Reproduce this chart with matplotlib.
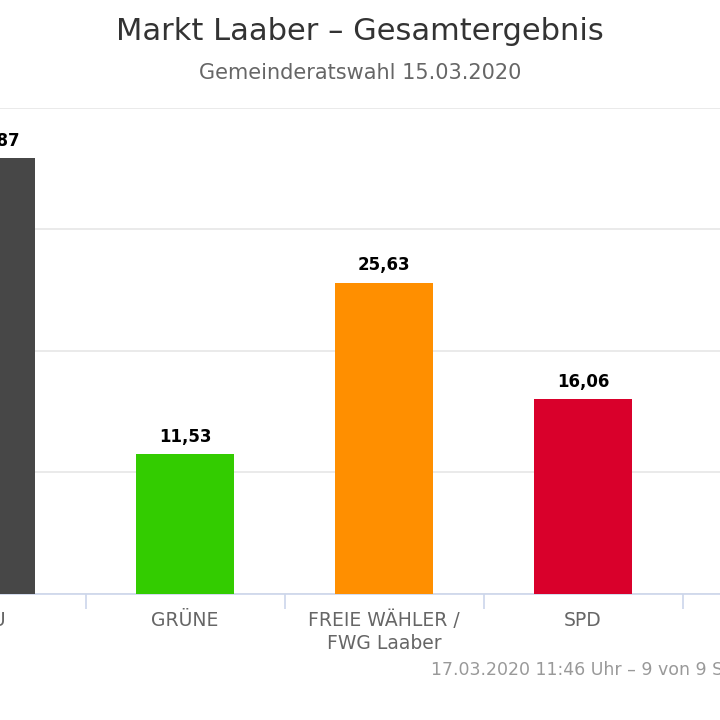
# Gemeinderatswahl Laaber - Balkendiagramm

import numpy as np
import matplotlib.pyplot as plt

# Daten
parteien = ['CSU', 'GRÜNE', 'FREIE WÄHLER /\nFWG Laaber', 'SPD']
prozent = [35.87, 11.53, 25.63, 16.06]
farben = ['#474747', '#33cc00', '#ff8f00', '#d9002b']
yticks = [0, 10, 20, 30, 40]

titel = 'Markt Laaber – Gesamtergebnis'
untertitel = 'Gemeinderatswahl 15.03.2020'
stand = '17.03.2020 11:46 Uhr – 9 von 9 Stimmbezirken'

plt.rcParams['font.family'] = ['DejaVu Sans']

fig = plt.figure(figsize=(7.2, 7.2), dpi=100)
ax = fig.add_axes([0, 0.175, 1, 0.675])

x = np.arange(len(parteien))
ax.bar(x, prozent, width=0.49, color=farben, zorder=3)

# Werte ueber den Balken (erstes Label etwas nach rechts geschoben wie im Original)
verschub = [5.8, 0, 0, 0]
for xi, v, dx in zip(x, prozent, verschub):
    ax.annotate(f'{v:.2f}'.replace('.', ','), (xi, v), xytext=(dx, 6),
                textcoords='offset points', ha='center', va='bottom',
                fontsize=12, fontweight='bold', color='#000000',
                annotation_clip=False)

# Kategorien als Text, damit auch die angeschnittene CSU erscheint
for xi, name in zip(x, parteien):
    ax.annotate(name, (xi, 0), xycoords=('data', 'axes fraction'),
                xytext=(0, -12), textcoords='offset points',
                ha='center', va='top', fontsize=13.5, color='#666666',
                linespacing=1.28, annotation_clip=False)

ax.set_yticks(yticks)
ax.yaxis.grid(True, color='#e6e6e6', linewidth=1.2, zorder=0)
ax.tick_params(axis='y', length=0, labelleft=False)

ax.set_xticks([])
ax.set_xticks(np.arange(-0.5, len(parteien)), minor=True)
ax.tick_params(axis='x', which='minor', length=11, color='#ccd6eb', width=1.2)

# Ausschnitt wie im Original (links und rechts abgeschnitten)
ax.set_xlim(0.070, 3.688)
ax.set_ylim(0, 40)

for s in ['top', 'left', 'right']:
    ax.spines[s].set_visible(False)
ax.spines['bottom'].set_color('#ccd6eb')
ax.spines['bottom'].set_linewidth(1.2)

fig.text(0.5, 1 - 32 / 720, titel, ha='center', va='center',
         fontsize=22, color='#333333')
fig.text(0.5, 1 - 73 / 720, untertitel, ha='center', va='center',
         fontsize=15, color='#666666')
fig.text(431 / 720, 1 - 670 / 720, stand, ha='left', va='center',
         fontsize=12.5, color='#999999')

fig.savefig('out.png', dpi=100)
